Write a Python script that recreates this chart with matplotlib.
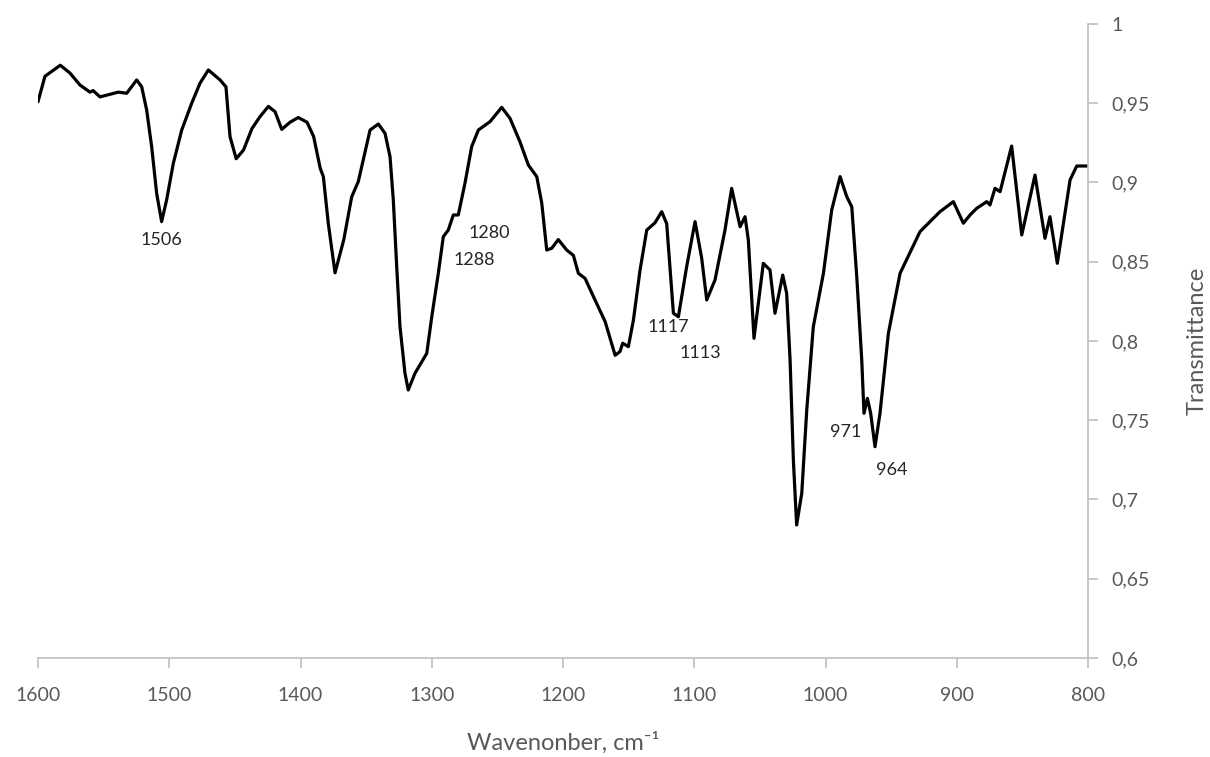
import numpy as np
import matplotlib.pyplot as plt
from matplotlib.ticker import FuncFormatter, MultipleLocator

# IR spectrum
wavenumber = [1600, 1594.7, 1583, 1575.6, 1568, 1560.4, 1558, 1552.8, 1538.8, 1532.4,
              1524.8, 1521, 1517.2, 1513.4, 1509.6, 1505.8, 1502, 1496.9, 1490.5, 1482.9,
              1476.6, 1470.2, 1461.3, 1456.8, 1453.7, 1449, 1443.4, 1437, 1430.9, 1424.5,
              1419.4, 1414.3, 1408, 1401.7, 1395, 1390, 1385, 1382.6, 1378.8, 1373.7,
              1367, 1361, 1356, 1347, 1340.7, 1335.6, 1331.8, 1329.3, 1326.7, 1324.2,
              1320.4, 1317.9, 1312.8, 1303.8, 1300, 1295, 1291.2, 1287.4, 1283.6, 1279.8,
              1274.7, 1269.6, 1264.5, 1255.6, 1246.7, 1240.4, 1232.8, 1226.4, 1220, 1216.2,
              1212.4, 1208.6, 1203.6, 1197.2, 1192.1, 1188.3, 1183.2, 1176.8, 1167.9, 1160.3,
              1156.6, 1154.5, 1150.2, 1146.4, 1141.3, 1136.2, 1129.9, 1124.8, 1121, 1115.9,
              1112.1, 1105.8, 1099.4, 1094.4, 1090.5, 1084.2, 1076.6, 1071.5, 1065.1, 1061.3,
              1058.8, 1054.5, 1047.4, 1042.3, 1038.5, 1032.6, 1029.6, 1027, 1024.5, 1022,
              1018.1, 1014.3, 1009.3, 1001.6, 995.3, 988.9, 983.8, 980, 976.2, 972.4,
              970.7, 968.1, 965.6, 962.3, 958.5, 952.1, 943.2, 928, 912.8, 902.6,
              895, 889.9, 884.8, 877.2, 874.7, 870.9, 867, 858.2, 850.5, 840.4,
              832.8, 829, 823.4, 813.7, 808.6, 800]
transmittance = [0.951, 0.967, 0.974, 0.969, 0.9615, 0.957, 0.958, 0.954, 0.957, 0.9563,
                 0.9647, 0.9604, 0.9457, 0.9226, 0.8932, 0.8753, 0.889, 0.9121, 0.9331, 0.950,
                 0.9626, 0.971, 0.9647, 0.9604, 0.9289, 0.915, 0.9205, 0.934, 0.9415, 0.948,
                 0.9447, 0.9335, 0.938, 0.941, 0.938, 0.929, 0.909, 0.9037, 0.874, 0.843,
                 0.864, 0.891, 0.9005, 0.9331, 0.9369, 0.931, 0.9163, 0.889, 0.8469, 0.809,
                 0.7796, 0.7691, 0.7796, 0.7922, 0.8153, 0.8427, 0.8658, 0.870, 0.8795, 0.8795,
                 0.8995, 0.9226, 0.9331, 0.9384, 0.9474, 0.9405, 0.9257, 0.911, 0.9037, 0.887,
                 0.8574, 0.8585, 0.864, 0.8574, 0.854, 0.8427, 0.8395, 0.828, 0.8122, 0.791,
                 0.7933, 0.7986, 0.7964, 0.813, 0.8448, 0.870, 0.8746, 0.8816, 0.874, 0.8175,
                 0.8153, 0.8469, 0.8753, 0.8525, 0.8259, 0.8385, 0.870, 0.8963, 0.8721, 0.8784,
                 0.8637, 0.8017, 0.849, 0.8448, 0.8175, 0.8416, 0.830, 0.788, 0.7249, 0.6839,
                 0.704, 0.7565, 0.809, 0.8427, 0.8826, 0.9037, 0.891, 0.8847, 0.8406, 0.788,
                 0.7544, 0.7638, 0.7544, 0.7333, 0.7544, 0.8049, 0.8427, 0.869, 0.8816, 0.8879,
                 0.8743, 0.8795, 0.8837, 0.8879, 0.8858, 0.8963, 0.8942, 0.9230, 0.8669, 0.9047,
                 0.8648, 0.8784, 0.849, 0.9016, 0.9104, 0.9104]

# peak labels: text, x, y (text position)
peak_labels = ['1506', '1280', '1288', '1117', '1113', '971', '964']
label_x = [1506.3, 1256.4, 1267.8, 1120, 1095.6, 984.4, 949.3]
label_y = [0.8637, 0.868, 0.851, 0.8088, 0.7924, 0.7426, 0.7186]

plt.rcParams['font.family'] = ['Lato', 'DejaVu Sans']
grey = '#595959'
axis_grey = '#bfbfbf'

fig = plt.figure(figsize=(12.1, 7.57), dpi=100)
ax = fig.add_axes([0.0314, 0.1308, 0.8678, 0.8375])

ax.plot(wavenumber, transmittance, color='black', lw=2.3,
        solid_joinstyle='round', solid_capstyle='round')

for t, x, y in zip(peak_labels, label_x, label_y):
    ax.text(x, y, t, ha='center', va='center', fontsize=13, color='#262626')

ax.set_xlim(1600, 800)
ax.set_ylim(0.6, 1.0)
ax.xaxis.set_major_locator(MultipleLocator(100))
ax.yaxis.set_major_locator(MultipleLocator(0.05))
ax.yaxis.set_major_formatter(FuncFormatter(lambda v, p: ('%g' % round(v, 2)).replace('.', ',')))

ax.yaxis.tick_right()
ax.yaxis.set_label_position('right')
for s in ['top', 'left']:
    ax.spines[s].set_visible(False)
for s in ['bottom', 'right']:
    ax.spines[s].set_color(axis_grey)
    ax.spines[s].set_linewidth(1.2)
ax.tick_params(axis='both', colors=axis_grey, length=7, width=1.2, labelsize=14,
               labelcolor=grey)
ax.tick_params(axis='x', pad=14)
ax.tick_params(axis='y', pad=10)

ax.set_xlabel('Wavenonber, cm\u207b\u00b9', fontsize=17, color=grey, labelpad=20)
ax.set_ylabel('Transmittance', fontsize=17, color=grey, labelpad=26)

fig.savefig('out.png', dpi=100)
